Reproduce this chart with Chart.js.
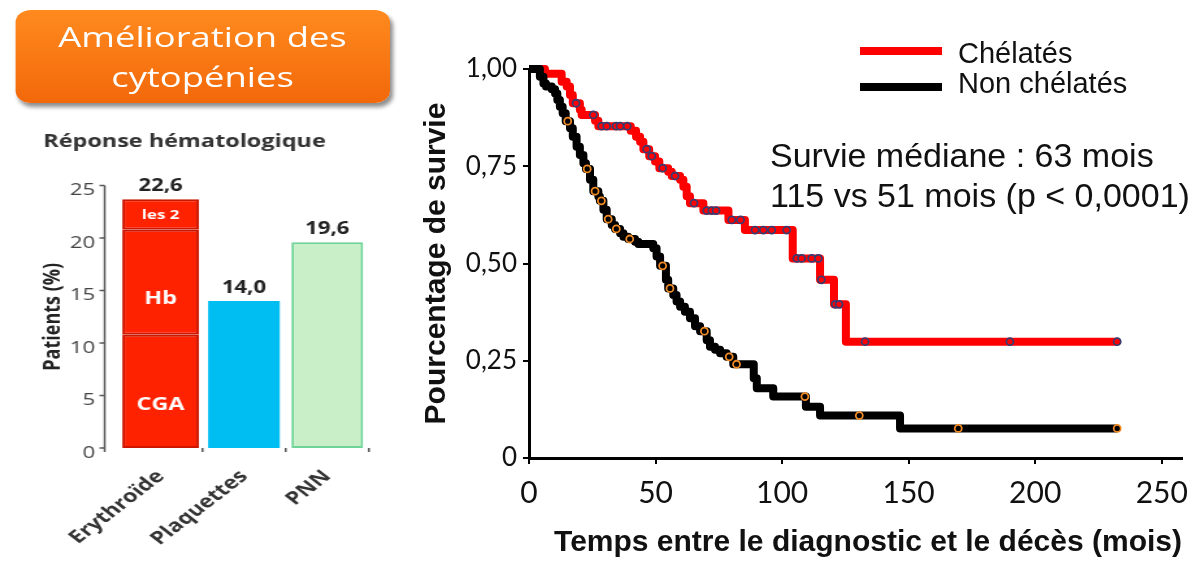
<!DOCTYPE html>
<html lang="fr">
<head>
<meta charset="utf-8">
<title>Amélioration des cytopénies</title>
<script src="https://cdn.jsdelivr.net/npm/chart.js@4.4.1/dist/chart.umd.min.js"></script>
<style>
  html, body { margin: 0; padding: 0; background: #fff; }
  #page { position: relative; width: 1204px; height: 562px; overflow: hidden; }
  /* la moitié gauche de la diapo est étirée horizontalement */
  #gauche { position: absolute; left: 0; top: 0; width: 308px; height: 562px; transform: scaleX(1.3); transform-origin: 0 0; }
  #titreBox {
    position: absolute; left: 11.5px; top: 10px; width: 288.5px; height: 93px; box-sizing: border-box;
    border-radius: 12px; background: linear-gradient(#ff8a1e, #f2680a);
    box-shadow: 2px 4px 4px rgba(0,0,0,.45);
    color: #fff; font-family: 'Open Sans', sans-serif; font-size: 28px; line-height: 40px;
    text-align: center; padding-top: 6px;
  }
  #barres { position: absolute; left: 0; top: 115px; }
  #survie { position: absolute; left: 400px; top: 0; }
  .txt { position: absolute; font-family: 'Liberation Sans', Arial, sans-serif; color: #111; white-space: nowrap; }
  .leg { font-size: 29px; line-height: 29px; left: 958px; }
  .note { font-size: 34px; line-height: 34px; left: 770px; }
  .trait { position: absolute; left: 860px; width: 82px; height: 8px; }
</style>
</head>
<body>
<div id="page">
  <div id="gauche">
    <div id="titreBox">Amélioration des<br>cytopénies</div>
    <canvas id="barres" width="308" height="447"></canvas>
  </div>
  <canvas id="survie" width="804" height="562"></canvas>

  <div class="trait" style="top:47px;background:#ff0000"></div>
  <div class="trait" style="top:83px;background:#000"></div>
  <div class="txt leg" style="top:38.5px">Chélatés</div>
  <div class="txt leg" style="top:68.5px">Non chélatés</div>
  <div class="txt note" style="top:138px">Survie médiane : 63 mois</div>
  <div class="txt note" style="top:178px">115 vs 51 mois (p &lt; 0,0001)</div>
</div>

<script>
// ===== Données : réponse hématologique
const categories = ['Erythroïde', 'Plaquettes', 'PNN'];
const valeursCGA = [10.8, null, null];
const valeursHb = [10.0, null, null];
const valeursLes2 = [2.9, null, null];
const valeursPlaquettes = [null, 14.0, null];
const valeursPNN = [null, null, 19.6];
const etiquettesTotal = ['22,6', '14,0', '19,6'];
const etiquettesSegments = ['CGA', 'Hb', 'les 2'];

// ===== Données : survie (Kaplan-Meier)
const chelTemps = [0, 6.3, 12.9, 14.9, 16.2, 17.3, 20.1, 20.8, 26.1, 27.4, 40.2, 42.3, 43.9, 45.2, 47.5, 49.8, 51.5, 55.0, 56.4, 59.7, 61.0, 62.3, 63.6, 68.9, 78.8, 85.3, 104.2, 115.0, 120.5, 125.2, 232.4];
const chelSurvie = [1.0, 0.988, 0.967, 0.955, 0.933, 0.912, 0.895, 0.882, 0.867, 0.853, 0.841, 0.826, 0.813, 0.794, 0.776, 0.762, 0.745, 0.736, 0.725, 0.715, 0.697, 0.673, 0.655, 0.636, 0.612, 0.586, 0.513, 0.458, 0.395, 0.299, 0.299];
const chelCensures = [18.6, 25.4, 28.7, 30.7, 34.4, 36.0, 38.8, 46.5, 48.5, 52.8, 57.7, 65.2, 70.2, 72.2, 73.9, 80.1, 83.6, 89.3, 92.6, 95.9, 101.8, 105.8, 107.7, 111.7, 114.3, 115.5, 121.0, 122.5, 132.8, 190.0, 232.4];

const nonTemps = [0, 4.3, 5.7, 6.7, 9.0, 10.3, 11.2, 12.2, 13.3, 14.5, 16.2, 17.3, 18.8, 20.1, 21.5, 22.5, 24.1, 25.4, 27.4, 28.0, 29.4, 30.7, 32.7, 34.0, 36.0, 37.3, 39.2, 41.9, 43.2, 49.1, 50.4, 51.8, 54.1, 55.0, 57.0, 58.3, 59.7, 61.6, 63.6, 65.6, 67.6, 70.2, 71.5, 73.5, 75.5, 78.1, 80.7, 88.8, 90.0, 96.5, 109.4, 115.0, 146.6, 232.4];
const nonSurvie = [1.0, 0.98, 0.963, 0.955, 0.948, 0.937, 0.92, 0.903, 0.886, 0.866, 0.848, 0.826, 0.8, 0.779, 0.758, 0.743, 0.715, 0.686, 0.672, 0.661, 0.638, 0.614, 0.599, 0.589, 0.578, 0.569, 0.563, 0.556, 0.55, 0.539, 0.518, 0.494, 0.458, 0.436, 0.419, 0.402, 0.389, 0.376, 0.359, 0.339, 0.326, 0.303, 0.286, 0.278, 0.269, 0.26, 0.241, 0.205, 0.179, 0.158, 0.132, 0.109, 0.076, 0.076];
const nonCensures = [15.3, 23.0, 26.1, 28.6, 31.3, 34.5, 39.8, 52.8, 55.7, 69.3, 79.1, 82.0, 109.0, 130.5, 169.6, 232.4];

const xTickValeurs = [0, 50, 100, 150, 200, 250];
const xTickLabels = ['0', '50', '100', '150', '200', '250'];
const yTickValeurs = [0, 0.25, 0.5, 0.75, 1];
const yTickLabels = ['0', '0,25', '0,50', '0,75', '1,00'];

// points d'une courbe en escalier
function points(temps, survie) {
  return temps.map((t, i) => ({ x: t, y: survie[i] }));
}
// les censures sont posées sur la courbe (valeur du palier en cours)
function censures(liste, temps, survie) {
  return liste.map(t => {
    let k = 0;
    for (let i = 0; i < temps.length; i++) if (temps[i] <= t) k = i;
    return { x: t, y: survie[k] };
  });
}

// ===== Graphique en barres (gauche)
const policeBarres = "'Open Sans', sans-serif";
const segmentOffset = [14, 17, 1];

const etiquettesBarres = {
  id: 'etiquettesBarres',
  afterDatasetsDraw(chart) {
    const ctx = chart.ctx;
    const yScale = chart.scales.y;
    const axeX = chart.chartArea.left - 11;
    ctx.save();
    // axe vertical décalé avec ses petits traits
    ctx.strokeStyle = '#555';
    ctx.lineWidth = 1.5;
    ctx.beginPath();
    ctx.moveTo(axeX, yScale.getPixelForValue(25));
    ctx.lineTo(axeX, yScale.getPixelForValue(0) + 4);
    yScale.ticks.forEach(t => {
      const py = yScale.getPixelForValue(t.value);
      ctx.moveTo(axeX - 4, py);
      ctx.lineTo(axeX, py);
    });
    ctx.stroke();

    // étiquettes dans les segments
    ctx.textAlign = 'center';
    ctx.textBaseline = 'middle';
    ctx.fillStyle = '#fff';
    for (let d = 0; d < 3; d++) {
      const el = chart.getDatasetMeta(d).data[0];
      ctx.font = (d === 2 ? 'bold 13px ' : 'bold 18px ') + policeBarres;
      ctx.fillText(etiquettesSegments[d], el.x, (el.y + el.base) / 2 + segmentOffset[d]);
    }

    // valeurs au-dessus des barres
    ctx.fillStyle = '#222';
    ctx.font = 'bold 17px ' + policeBarres;
    categories.forEach((c, i) => {
      let haut = Infinity, x = 0;
      chart.data.datasets.forEach((ds, d) => {
        if (ds.data[i] == null) return;
        const el = chart.getDatasetMeta(d).data[i];
        if (el.y < haut) { haut = el.y; x = el.x; }
      });
      ctx.fillText(etiquettesTotal[i], x, haut - 13);
    });
    ctx.restore();
  }
};

const rouge = { backgroundColor: '#ff2200', borderColor: '#cc1600', borderWidth: 2, borderSkipped: false, barPercentage: 0.92, categoryPercentage: 1 };

new Chart(document.getElementById('barres'), {
  type: 'bar',
  data: {
    labels: categories,
    datasets: [
      Object.assign({ label: 'CGA', data: valeursCGA }, rouge),
      Object.assign({ label: 'Hb', data: valeursHb }, rouge),
      Object.assign({ label: 'les 2', data: valeursLes2 }, rouge),
      { label: 'Plaquettes', data: valeursPlaquettes, backgroundColor: '#00bdf2', borderWidth: 0, barPercentage: 0.86, categoryPercentage: 1 },
      { label: 'PNN', data: valeursPNN, backgroundColor: '#c8efc8', borderColor: '#6dd396', borderWidth: 2, borderSkipped: false, barPercentage: 0.86, categoryPercentage: 1 }
    ]
  },
  options: {
    responsive: false,
    animation: false,
    layout: { padding: { left: 0, top: 0, right: 24.2, bottom: 0 } },
    plugins: {
      legend: { display: false },
      tooltip: { enabled: false },
      title: {
        display: true, text: 'Réponse hématologique', color: '#333',
        font: { family: policeBarres, size: 18, weight: 'bold' },
        padding: { top: 16, bottom: 33 }
      }
    },
    scales: {
      x: {
        stacked: true,
        afterFit: s => { s.height = 114; s.paddingLeft = 0; s.paddingRight = 0; },
        ticks: { color: '#333', font: { family: policeBarres, size: 18, weight: 'bold' }, minRotation: 45, maxRotation: 45, padding: 14 },
        grid: {
          drawOnChartArea: false, drawTicks: true, tickLength: 4, lineWidth: 1.5,
          color: c => (c.index === 0 || c.index >= categories.length) ? 'rgba(0,0,0,0)' : '#555'
        },
        border: { display: false }
      },
      y: {
        stacked: true, min: 0, max: 25,
        afterFit: s => { s.width = 91.5; s.paddingTop = 0; s.paddingBottom = 0; },
        ticks: { stepSize: 5, color: '#444', font: { family: policeBarres, size: 17 }, padding: 18.4, labelOffset: 5 },
        grid: { display: false, drawTicks: false },
        border: { display: false },
        title: {
          display: true, text: 'Patients (%)', color: '#222',
          font: { family: policeBarres, size: 18, weight: 'bold' },
          padding: { top: 30, bottom: 0 }
        }
      }
    }
  },
  plugins: [etiquettesBarres]
});

// ===== Courbes de survie (droite)
const policeAxes = "Lato, 'Open Sans', sans-serif";
const policeTitres = "'Liberation Sans', Arial, sans-serif";

new Chart(document.getElementById('survie'), {
  type: 'line',
  data: {
    datasets: [
      { label: 'Chélatés', data: points(chelTemps, chelSurvie), borderColor: '#ff0000', borderWidth: 8,
        stepped: true, pointRadius: 0, borderJoinStyle: 'round', borderCapStyle: 'butt', clip: false, order: 3 },
      { label: 'Non chélatés', data: points(nonTemps, nonSurvie), borderColor: '#000', borderWidth: 8,
        stepped: true, pointRadius: 0, borderJoinStyle: 'round', borderCapStyle: 'butt', clip: false, order: 2 },
      { label: 'Censures chélatés', data: censures(chelCensures, chelTemps, chelSurvie), showLine: false,
        pointRadius: 3.5, pointBorderWidth: 1.8, pointBorderColor: '#3a3a6e', pointBackgroundColor: '#ff0000', clip: false, order: 1 },
      { label: 'Censures non chélatés', data: censures(nonCensures, nonTemps, nonSurvie), showLine: false,
        pointRadius: 3.5, pointBorderWidth: 1.8, pointBorderColor: '#f08a24', pointBackgroundColor: '#000', clip: false, order: 0 }
    ]
  },
  options: {
    responsive: false,
    animation: false,
    layout: { padding: { left: 0, top: 69, right: 22, bottom: 0 } },
    plugins: { legend: { display: false }, tooltip: { enabled: false } },
    scales: {
      x: {
        type: 'linear', min: 0, max: 258,
        afterFit: s => { s.height = 104; s.paddingLeft = 0; s.paddingRight = 0; },
        ticks: {
          stepSize: 50, includeBounds: false, maxRotation: 0, color: '#111', padding: 11,
          font: { family: policeAxes, size: 30 },
          callback: v => { const i = xTickValeurs.indexOf(v); return i >= 0 ? xTickLabels[i] : ''; }
        },
        grid: { drawOnChartArea: false, drawTicks: true, tickLength: 6, color: '#000', lineWidth: 2 },
        border: { display: true, color: '#000', width: 3 },
        title: {
          display: true, align: 'end', text: 'Temps entre le diagnostic et le décès (mois)', color: '#111',
          font: { family: policeTitres, size: 30, weight: 'bold' }, padding: { top: 0, bottom: 1 }
        }
      },
      y: {
        type: 'linear', min: 0, max: 1,
        afterFit: s => { s.width = 129; s.paddingTop = 0; s.paddingBottom = 0; },
        ticks: {
          stepSize: 0.25, color: '#111', padding: 6,
          font: { family: policeAxes, size: 26 },
          callback: v => { const i = yTickValeurs.indexOf(v); return i >= 0 ? yTickLabels[i] : ''; }
        },
        grid: { drawOnChartArea: false, drawTicks: true, tickLength: 6, color: '#000', lineWidth: 2 },
        border: { display: true, color: '#000', width: 3 },
        title: {
          display: true, text: 'Pourcentage de survie', color: '#111',
          font: { family: policeTitres, size: 30, weight: 'bold' }, padding: { top: 19, bottom: 0 }
        }
      }
    }
  }
});
</script>
</body>
</html>
